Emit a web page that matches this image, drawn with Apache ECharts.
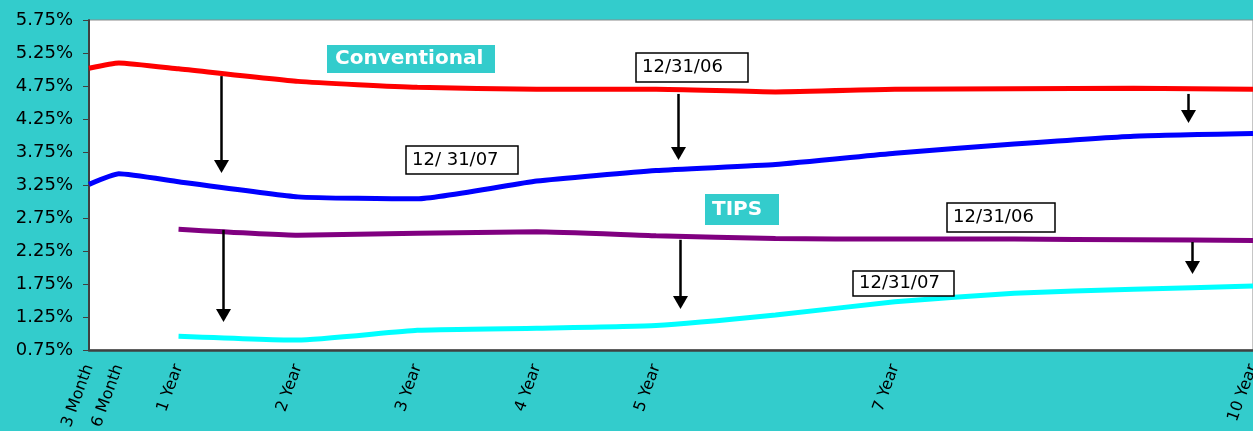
<!DOCTYPE html>
<html><head><meta charset="utf-8">
<script src="https://cdn.jsdelivr.net/npm/echarts@6/dist/echarts.min.js"></script>
<style>html,body{margin:0;padding:0;background:#33CCCC;overflow:hidden}#c{width:1253px;height:431px}</style>
</head><body><div id="c"></div>
<script>
// Maturities in years (x values)
const maturities = [0.25, 0.5, 1, 2, 3, 4, 5, 6, 7, 8, 9, 10];
// Yields in percent
const conventional2006 = [5.02, 5.10, 5.01, 4.82, 4.73, 4.70, 4.70, 4.66, 4.70, 4.71, 4.715, 4.70];
const conventional2007 = [3.26, 3.42, 3.30, 3.07, 3.04, 3.31, 3.47, 3.56, 3.73, 3.87, 3.99, 4.03];
const tips2006 = [null, null, 2.58, 2.49, 2.52, 2.54, 2.48, 2.44, 2.43, 2.43, 2.42, 2.41];
const tips2007 = [null, null, 0.96, 0.90, 1.05, 1.08, 1.12, 1.28, 1.48, 1.61, 1.67, 1.72];
// X tick labels
const xTickValues = [0.25, 0.5, 1, 2, 3, 4, 5, 7, 10];
const xTickLabels = ['3 Month', '6 Month', '1 Year', '2 Year', '3 Year', '4 Year', '5 Year', '7 Year', '10 Year'];
// Y axis range (percent)
const yMin = 0.75, yMax = 5.75, yStep = 0.5;
// Annotation texts anchored in data space [years, percent]
const boxTexts = ['Conventional', 'TIPS', '12/31/06', '12/ 31/07', '12/31/06', '12/31/07'];
const boxAnchors = [[2.95, 5.16], [5.72, 2.88], [5.30, 5.03], [3.374, 3.63], [7.888, 2.758], [7.072, 1.758]];
// Arrows: [years, from %, to %]
const arrows = [[1.356, 4.90, 3.43], [5.183, 4.63, 3.63], [9.454, 4.63, 4.19],
                [1.372, 2.57, 1.174], [5.20, 2.42, 1.371], [9.488, 2.386, 1.902]];

function pairs(ys) {
  const out = [];
  maturities.forEach((x, i) => { if (ys[i] != null) out.push([x, ys[i]]); });
  return out;
}

const chart = echarts.init(document.getElementById('c'), null, {renderer: 'canvas'});
const lineSeries = (name, ys, color) => ({
  name, type: 'line', data: pairs(ys), symbol: 'none', smooth: 0.15,
  lineStyle: {color, width: 5}, z: 3
});

chart.setOption({
  backgroundColor: '#33CCCC',
  animation: false,
  grid: {left: 89, right: 0, top: 20, bottom: 81, show: true, backgroundColor: '#FFFFFF',
         borderColor: '#8C8C8C', borderWidth: 1, containLabel: false, outerBoundsMode: 'none'},
  xAxis: {
    type: 'value', min: 0.25, max: 10,
    splitLine: {show: false},
    axisLine: {show: true, onZero: false, lineStyle: {color: '#404040', width: 2.5}},
    axisTick: {show: false},
    axisLabel: {
      customValues: xTickValues, rotate: 70, margin: 15,
      color: '#000', fontFamily: 'DejaVu Sans', fontSize: 16,
      formatter: v => { const i = xTickValues.findIndex(t => Math.abs(t - v) < 1e-9); return i >= 0 ? xTickLabels[i] : ''; }
    }
  },
  yAxis: {
    type: 'value', min: yMin, max: yMax, interval: yStep,
    splitLine: {show: false},
    axisLine: {show: true, lineStyle: {color: '#404040', width: 2}},
    axisTick: {show: true, length: 6, lineStyle: {color: '#404040', width: 1}},
    axisLabel: {color: '#000', fontFamily: 'DejaVu Sans', fontSize: 18, margin: 16,
                formatter: v => v.toFixed(2) + '%'}
  },
  series: [
    lineSeries('Conventional 12/31/06', conventional2006, '#FF0000'),
    lineSeries('Conventional 12/31/07', conventional2007, '#0000FF'),
    lineSeries('TIPS 12/31/06', tips2006, '#800080'),
    lineSeries('TIPS 12/31/07', tips2007, '#00FFFF')
  ]
});

// Build annotation graphics from data-space anchors
const boxStyles = [
  {w: 168, h: 28, teal: true, font: 'bold 20px "DejaVu Sans"', pad: 8},
  {w: 74, h: 31, teal: true, font: 'bold 20px "DejaVu Sans"', pad: 7},
  {w: 112, h: 29, teal: false, font: '18px "DejaVu Sans"', pad: 6},
  {w: 112, h: 28, teal: false, font: '18px "DejaVu Sans"', pad: 6},
  {w: 108, h: 29, teal: false, font: '18px "DejaVu Sans"', pad: 6},
  {w: 101, h: 25, teal: false, font: '18px "DejaVu Sans"', pad: 6}
];
const gfx = [];
boxTexts.forEach((txt, i) => {
  const p = chart.convertToPixel({gridIndex: 0}, boxAnchors[i]);
  const s = boxStyles[i];
  const x = Math.round(p[0] - s.w / 2), y = Math.round(p[1] - s.h / 2);
  gfx.push({
    type: 'rect', z: 10, shape: {x: x, y: y, width: s.w, height: s.h},
    style: s.teal ? {fill: '#33CCCC'} : {fill: '#FFFFFF', stroke: '#000', lineWidth: 1.5}
  });
  gfx.push({
    type: 'text', z: 11, x: x + s.pad, y: y + s.h / 2,
    style: {text: txt, font: s.font, fill: s.teal ? '#FFFFFF' : '#000000',
            textAlign: 'left', textVerticalAlign: 'middle'}
  });
});
arrows.forEach(a => {
  const p1 = chart.convertToPixel({gridIndex: 0}, [a[0], a[1]]);
  const p2 = chart.convertToPixel({gridIndex: 0}, [a[0], a[2]]);
  const x = Math.round(p1[0]) + 0.5;
  gfx.push({type: 'line', z: 10, shape: {x1: x, y1: p1[1], x2: x, y2: p2[1] - 12},
            style: {stroke: '#000', lineWidth: 2.5}});
  gfx.push({type: 'polygon', z: 10,
            shape: {points: [[x - 7.5, p2[1] - 13], [x + 7.5, p2[1] - 13], [x, p2[1]]]},
            style: {fill: '#000'}});
});
chart.setOption({graphic: gfx});
</script>
</body></html>
